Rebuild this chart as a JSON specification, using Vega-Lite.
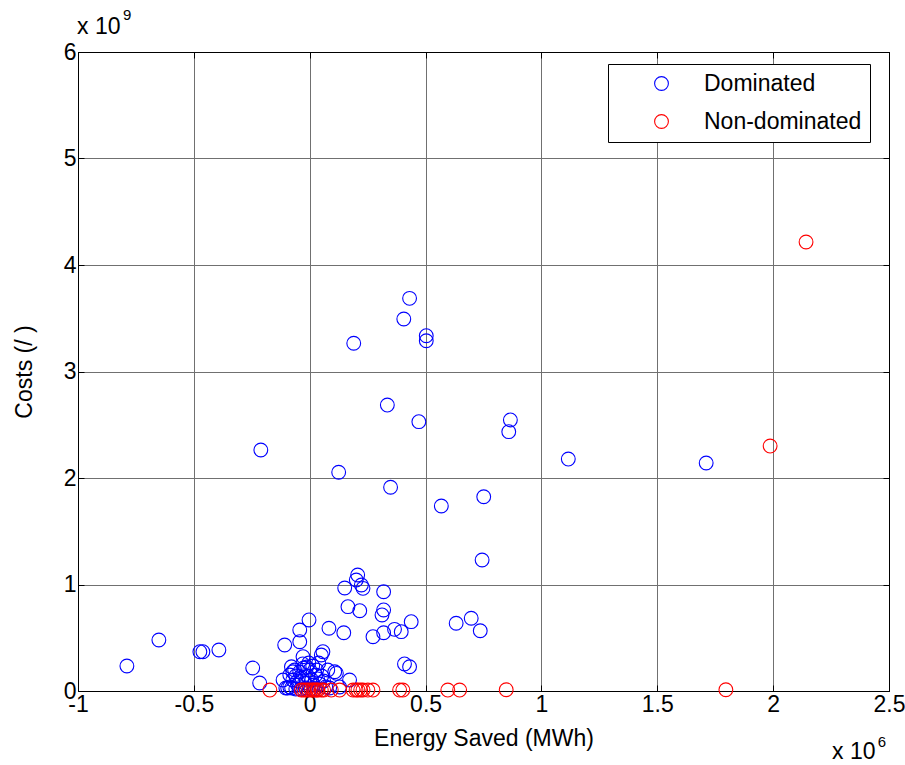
{
  "$schema": "https://vega.github.io/schema/vega-lite/v6.json",
  "width": 811,
  "height": 639,
  "autosize": {"type": "none"},
  "padding": {"left": 78, "top": 52, "right": 16, "bottom": 74},
  "background": "white",
  "config": {
    "view": {"stroke": "black", "strokeWidth": 1},
    "font": "Liberation Sans"
  },
  "layer": [
    {
      "data": {
        "values": [
          {"energy": -0.789, "cost": 0.235, "type": "Dominated"},
          {"energy": -0.651, "cost": 0.479, "type": "Dominated"},
          {"energy": -0.474, "cost": 0.369, "type": "Dominated"},
          {"energy": -0.461, "cost": 0.369, "type": "Dominated"},
          {"energy": -0.392, "cost": 0.385, "type": "Dominated"},
          {"energy": -0.246, "cost": 0.216, "type": "Dominated"},
          {"energy": -0.216, "cost": 0.075, "type": "Dominated"},
          {"energy": -0.211, "cost": 2.263, "type": "Dominated"},
          {"energy": -0.108, "cost": 0.432, "type": "Dominated"},
          {"energy": -0.043, "cost": 0.573, "type": "Dominated"},
          {"energy": -0.043, "cost": 0.463, "type": "Dominated"},
          {"energy": -0.003, "cost": 0.667, "type": "Dominated"},
          {"energy": 0.083, "cost": 0.589, "type": "Dominated"},
          {"energy": 0.147, "cost": 0.547, "type": "Dominated"},
          {"energy": 0.057, "cost": 0.369, "type": "Dominated"},
          {"energy": 0.05, "cost": 0.338, "type": "Dominated"},
          {"energy": -0.029, "cost": 0.322, "type": "Dominated"},
          {"energy": -0.115, "cost": 0.103, "type": "Dominated"},
          {"energy": -0.103, "cost": 0.028, "type": "Dominated"},
          {"energy": 0.115, "cost": 0.166, "type": "Dominated"},
          {"energy": 0.172, "cost": 0.103, "type": "Dominated"},
          {"energy": 0.151, "cost": 0.967, "type": "Dominated"},
          {"energy": 0.207, "cost": 1.089, "type": "Dominated"},
          {"energy": 0.201, "cost": 1.042, "type": "Dominated"},
          {"energy": 0.223, "cost": 0.995, "type": "Dominated"},
          {"energy": 0.23, "cost": 0.964, "type": "Dominated"},
          {"energy": 0.165, "cost": 0.792, "type": "Dominated"},
          {"energy": 0.216, "cost": 0.754, "type": "Dominated"},
          {"energy": 0.319, "cost": 0.932, "type": "Dominated"},
          {"energy": 0.319, "cost": 0.761, "type": "Dominated"},
          {"energy": 0.312, "cost": 0.714, "type": "Dominated"},
          {"energy": 0.273, "cost": 0.51, "type": "Dominated"},
          {"energy": 0.319, "cost": 0.547, "type": "Dominated"},
          {"energy": 0.366, "cost": 0.579, "type": "Dominated"},
          {"energy": 0.395, "cost": 0.557, "type": "Dominated"},
          {"energy": 0.438, "cost": 0.651, "type": "Dominated"},
          {"energy": 0.409, "cost": 0.254, "type": "Dominated"},
          {"energy": 0.431, "cost": 0.228, "type": "Dominated"},
          {"energy": 0.632, "cost": 0.636, "type": "Dominated"},
          {"energy": 0.697, "cost": 0.683, "type": "Dominated"},
          {"energy": 0.736, "cost": 0.566, "type": "Dominated"},
          {"energy": 0.744, "cost": 1.23, "type": "Dominated"},
          {"energy": 0.431, "cost": 3.687, "type": "Dominated"},
          {"energy": 0.406, "cost": 3.493, "type": "Dominated"},
          {"energy": 0.19, "cost": 3.265, "type": "Dominated"},
          {"energy": 0.503, "cost": 3.336, "type": "Dominated"},
          {"energy": 0.503, "cost": 3.289, "type": "Dominated"},
          {"energy": 0.335, "cost": 2.685, "type": "Dominated"},
          {"energy": 0.471, "cost": 2.529, "type": "Dominated"},
          {"energy": 0.866, "cost": 2.545, "type": "Dominated"},
          {"energy": 0.859, "cost": 2.435, "type": "Dominated"},
          {"energy": 1.116, "cost": 2.178, "type": "Dominated"},
          {"energy": 1.711, "cost": 2.141, "type": "Dominated"},
          {"energy": 0.125, "cost": 2.054, "type": "Dominated"},
          {"energy": 0.349, "cost": 1.913, "type": "Dominated"},
          {"energy": 0.568, "cost": 1.737, "type": "Dominated"},
          {"energy": 0.751, "cost": 1.824, "type": "Dominated"},
          {"energy": 0.108, "cost": 0.181, "type": "Dominated"},
          {"energy": -0.079, "cost": 0.228, "type": "Dominated"},
          {"energy": -0.073, "cost": 0.181, "type": "Dominated"},
          {"energy": -0.065, "cost": 0.197, "type": "Dominated"},
          {"energy": -0.013, "cost": 0.225, "type": "Dominated"},
          {"energy": 0.03, "cost": 0.197, "type": "Dominated"},
          {"energy": 0.078, "cost": 0.197, "type": "Dominated"},
          {"energy": -0.086, "cost": 0.15, "type": "Dominated"},
          {"energy": -0.073, "cost": 0.103, "type": "Dominated"},
          {"energy": -0.06, "cost": 0.141, "type": "Dominated"},
          {"energy": -0.043, "cost": 0.178, "type": "Dominated"},
          {"energy": -0.034, "cost": 0.122, "type": "Dominated"},
          {"energy": -0.022, "cost": 0.075, "type": "Dominated"},
          {"energy": -0.009, "cost": 0.141, "type": "Dominated"},
          {"energy": 0.0, "cost": 0.197, "type": "Dominated"},
          {"energy": 0.009, "cost": 0.103, "type": "Dominated"},
          {"energy": 0.017, "cost": 0.056, "type": "Dominated"},
          {"energy": 0.026, "cost": 0.15, "type": "Dominated"},
          {"energy": 0.034, "cost": 0.113, "type": "Dominated"},
          {"energy": 0.043, "cost": 0.066, "type": "Dominated"},
          {"energy": 0.052, "cost": 0.141, "type": "Dominated"},
          {"energy": 0.06, "cost": 0.094, "type": "Dominated"},
          {"energy": 0.069, "cost": 0.038, "type": "Dominated"},
          {"energy": -0.026, "cost": 0.216, "type": "Dominated"},
          {"energy": -0.052, "cost": 0.094, "type": "Dominated"},
          {"energy": -0.017, "cost": 0.028, "type": "Dominated"},
          {"energy": 0.004, "cost": 0.019, "type": "Dominated"},
          {"energy": -0.03, "cost": 0.254, "type": "Dominated"},
          {"energy": -0.004, "cost": 0.263, "type": "Dominated"},
          {"energy": 0.013, "cost": 0.235, "type": "Dominated"},
          {"energy": 0.039, "cost": 0.263, "type": "Dominated"},
          {"energy": -0.078, "cost": 0.028, "type": "Dominated"},
          {"energy": -0.095, "cost": 0.028, "type": "Dominated"},
          {"energy": -0.039, "cost": 0.019, "type": "Dominated"},
          {"energy": 0.022, "cost": 0.019, "type": "Dominated"},
          {"energy": -0.06, "cost": 0.019, "type": "Dominated"},
          {"energy": 0.086, "cost": 0.028, "type": "Dominated"},
          {"energy": 0.129, "cost": 0.038, "type": "Dominated"},
          {"energy": -0.052, "cost": 0.056, "type": "Dominated"},
          {"energy": -0.086, "cost": 0.038, "type": "Dominated"},
          {"energy": -0.172, "cost": 0.009, "type": "Non-dominated"},
          {"energy": -0.036, "cost": 0.009, "type": "Non-dominated"},
          {"energy": -0.025, "cost": 0.009, "type": "Non-dominated"},
          {"energy": -0.014, "cost": 0.009, "type": "Non-dominated"},
          {"energy": -0.004, "cost": 0.009, "type": "Non-dominated"},
          {"energy": 0.007, "cost": 0.009, "type": "Non-dominated"},
          {"energy": 0.015, "cost": 0.009, "type": "Non-dominated"},
          {"energy": 0.022, "cost": 0.009, "type": "Non-dominated"},
          {"energy": 0.03, "cost": 0.009, "type": "Non-dominated"},
          {"energy": 0.036, "cost": 0.009, "type": "Non-dominated"},
          {"energy": 0.05, "cost": 0.009, "type": "Non-dominated"},
          {"energy": 0.06, "cost": 0.009, "type": "Non-dominated"},
          {"energy": 0.093, "cost": 0.009, "type": "Non-dominated"},
          {"energy": 0.129, "cost": 0.009, "type": "Non-dominated"},
          {"energy": 0.187, "cost": 0.009, "type": "Non-dominated"},
          {"energy": 0.2, "cost": 0.009, "type": "Non-dominated"},
          {"energy": 0.208, "cost": 0.009, "type": "Non-dominated"},
          {"energy": 0.22, "cost": 0.009, "type": "Non-dominated"},
          {"energy": 0.23, "cost": 0.009, "type": "Non-dominated"},
          {"energy": 0.251, "cost": 0.009, "type": "Non-dominated"},
          {"energy": 0.273, "cost": 0.009, "type": "Non-dominated"},
          {"energy": 0.388, "cost": 0.009, "type": "Non-dominated"},
          {"energy": 0.402, "cost": 0.009, "type": "Non-dominated"},
          {"energy": 0.596, "cost": 0.009, "type": "Non-dominated"},
          {"energy": 0.647, "cost": 0.009, "type": "Non-dominated"},
          {"energy": 0.848, "cost": 0.012, "type": "Non-dominated"},
          {"energy": 1.796, "cost": 0.012, "type": "Non-dominated"},
          {"energy": 1.987, "cost": 2.3, "type": "Non-dominated"},
          {"energy": 2.142, "cost": 4.216, "type": "Non-dominated"}
        ]
      },
      "mark": {"type": "point", "shape": "circle", "filled": false, "size": 190, "strokeWidth": 1.1, "opacity": 1},
      "encoding": {
        "x": {
          "field": "energy", "type": "quantitative",
          "scale": {"domain": [-1, 2.5], "nice": false, "zero": false},
          "axis": {
            "orient": "bottom",
            "values": [-1, -0.5, 0, 0.5, 1, 1.5, 2, 2.5],
            "labelExpr": "'' + datum.value",
            "grid": true, "gridColor": "#707070", "gridWidth": 1, "gridOpacity": 1,
            "tickSize": -6, "tickColor": "black", "domainColor": "black",
            "labelFontSize": 23, "labelColor": "black", "labelPadding": 8,
            "labelFlush": false, "labelOverlap": false,
            "title": "Energy Saved (MWh)", "titleFontSize": 23, "titleFontWeight": "normal",
            "titleColor": "black", "titlePadding": 11
          }
        },
        "y": {
          "field": "cost", "type": "quantitative",
          "scale": {"domain": [0, 6], "nice": false, "zero": false},
          "axis": {
            "orient": "left",
            "values": [0, 1, 2, 3, 4, 5, 6],
            "grid": true, "gridColor": "#707070", "gridWidth": 1, "gridOpacity": 1,
            "tickSize": -6, "tickColor": "black", "domainColor": "black",
            "labelFontSize": 23, "labelColor": "black", "labelPadding": 8,
            "labelFlush": false, "labelOverlap": false,
            "title": "Costs (/ )", "titleFontSize": 23, "titleFontWeight": "normal",
            "titleColor": "black", "titlePadding": 27
          }
        },
        "color": {
          "field": "type", "type": "nominal",
          "scale": {"domain": ["Dominated", "Non-dominated"], "range": ["#0000ff", "#ff0000"]},
          "legend": {
            "orient": "none", "legendX": 530, "legendY": 12,
            "title": null,
            "strokeColor": "black", "fillColor": "white", "padding": 8,
            "symbolType": "circle", "symbolSize": 190, "symbolStrokeWidth": 1.1,
            "symbolOffset": 34, "labelOffset": 31,
            "labelFontSize": 23, "labelColor": "black", "rowPadding": 14,
            "labelExpr": "datum.label + '   '"
          }
        }
      }
    },
    {
      "data": {"values": [
        {"t": "x 10", "x": -1.004, "y": 6.169},
        {"t": "x 10", "x": 2.254, "y": -0.638}
      ]},
      "mark": {"type": "text", "align": "left", "baseline": "alphabetic", "fontSize": 23, "color": "black"},
      "encoding": {
        "x": {"field": "x", "type": "quantitative",
          "scale": {"domain": [-1, 2.5], "nice": false, "zero": false},
          "axis": {"orient": "top", "values": [-1, -0.5, 0, 0.5, 1, 1.5, 2, 2.5], "labels": false, "title": null, "grid": false, "tickSize": -6, "tickColor": "black", "domainColor": "black"}},
        "y": {"field": "y", "type": "quantitative",
          "scale": {"domain": [0, 6], "nice": false, "zero": false},
          "axis": {"orient": "right", "values": [0, 1, 2, 3, 4, 5, 6], "labels": false, "title": null, "grid": false, "tickSize": -6, "tickColor": "black", "domainColor": "black"}},
        "text": {"field": "t", "type": "nominal"}
      }
    },
    {
      "data": {"values": [
        {"t": "9", "x": -0.806, "y": 6.3},
        {"t": "6", "x": 2.451, "y": -0.526}
      ]},
      "mark": {"type": "text", "align": "left", "baseline": "alphabetic", "fontSize": 15, "color": "black"},
      "encoding": {
        "x": {"field": "x", "type": "quantitative",
          "scale": {"domain": [-1, 2.5], "nice": false, "zero": false}, "axis": null},
        "y": {"field": "y", "type": "quantitative",
          "scale": {"domain": [0, 6], "nice": false, "zero": false}, "axis": null},
        "text": {"field": "t", "type": "nominal"}
      }
    }
  ],
  "resolve": {"axis": {"x": "independent", "y": "independent"}}
}
